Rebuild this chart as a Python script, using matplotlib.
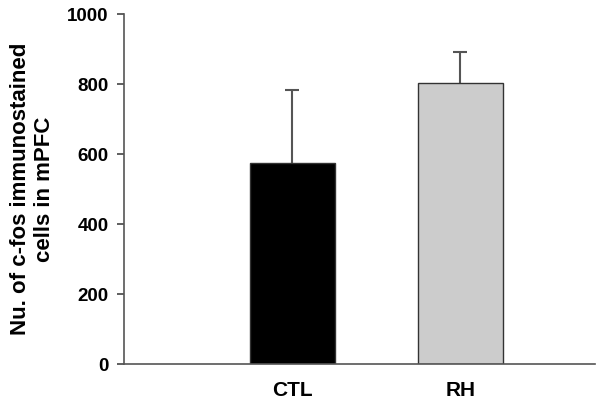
import numpy as np
import matplotlib.pyplot as plt

plt.rcParams['font.family'] = ['Liberation Sans', 'DejaVu Sans']
plt.rcParams['font.weight'] = 'bold'

# Данные
groups = ['CTL', 'RH']
means = [574, 803]
errors = [209, 88]
colors = ['#000000', '#cccccc']

fig = plt.figure(figsize=(6.02, 4.04), dpi=100)
ax = fig.add_axes([0.206, 0.099, 0.782, 0.866])

x = np.arange(len(groups))
ax.bar(x, means, width=0.506, color=colors, edgecolor='#333333', linewidth=1.0, zorder=2)
eb = ax.errorbar(x, means, yerr=[np.zeros(len(errors)), errors], fmt='none',
                 ecolor='#555555', elinewidth=1.5, capsize=5, capthick=1.5, zorder=1)
# только верхние "усы"
eb[1][0].set_visible(False)

ax.set_xlim(-1.0, 1.8)
ax.set_ylim(0, 1000)
ax.set_yticks(np.arange(0, 1001, 200))
ax.set_xticks(x)
ax.set_xticklabels(groups, fontsize=15, fontweight='bold')
ax.tick_params(axis='x', length=0, pad=12)
ax.tick_params(axis='y', labelsize=13.5, length=5, width=1.2, color='#444444', pad=6)

for s in ['top', 'right']:
    ax.spines[s].set_visible(False)
for s in ['left', 'bottom']:
    ax.spines[s].set_color('#555555')
    ax.spines[s].set_linewidth(1.2)

ax.set_ylabel('Nu. of c-fos immunostained\ncells in mPFC', fontsize=16,
              fontweight='bold', linespacing=1.15)
ax.yaxis.label.set_va('center')
ax.yaxis.set_label_coords(-0.194, 0.5)

fig.savefig('out.png', dpi=100)
